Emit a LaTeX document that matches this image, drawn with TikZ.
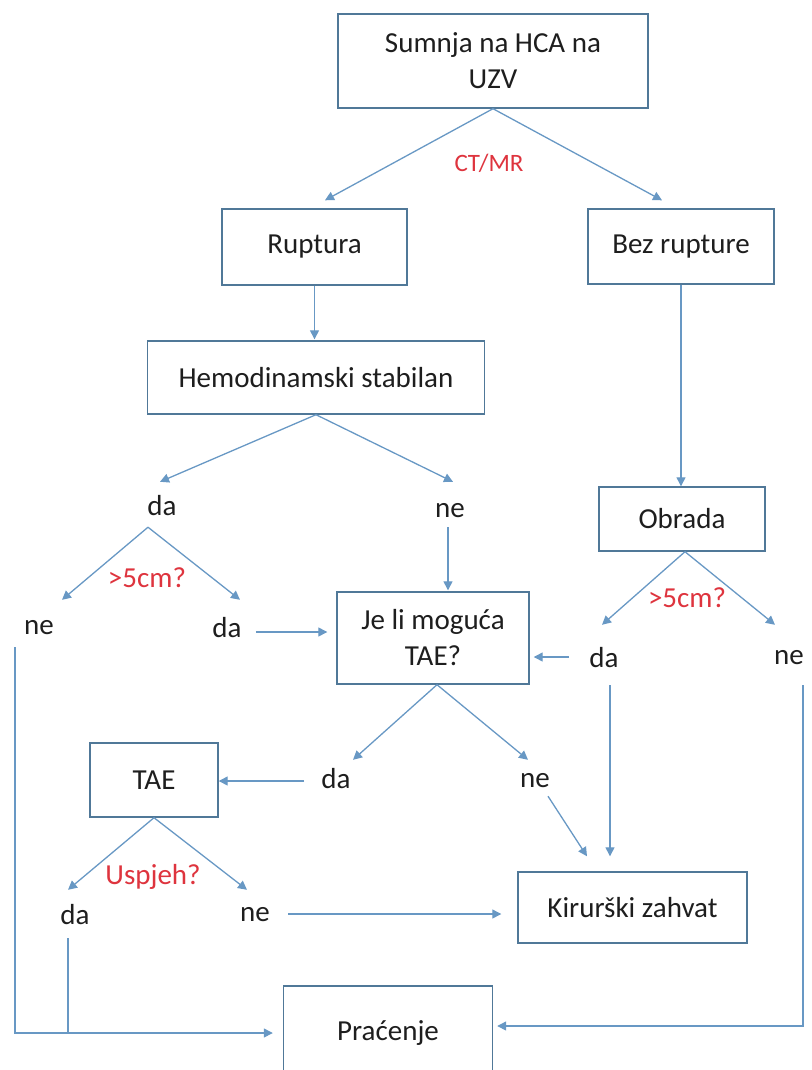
\documentclass[tikz,border=0pt]{standalone}
\usepackage{fontspec}
\setmainfont{Carlito}
\usetikzlibrary{arrows.meta, positioning}

\definecolor{boxline}{RGB}{80,120,152}
\definecolor{arrowline}{RGB}{104,152,196}
\definecolor{qred}{RGB}{222,52,62}
\definecolor{txt}{RGB}{30,30,30}

\tikzset{
  box/.style={draw=boxline, line width=1.4pt, fill=white, text=txt, align=center,
    inner sep=0pt, font=\fontsize{29}{36}\selectfont},
  lbl/.style={text=txt, inner sep=0pt, text height=20pt, text depth=0pt,
    font=\fontsize{29}{36}\selectfont},
  qlbl/.style={text=qred, inner sep=0pt, font=\fontsize{29}{36}\selectfont},
  arr/.style={draw=arrowline, line width=1.3pt, -{Triangle[length=9pt,width=9pt]}},
  ln/.style={draw=arrowline, line width=1.3pt}
}

\begin{document}
\begin{tikzpicture}[x=1pt, y=-1pt]
      \useasboundingbox (0,0) rectangle (811,1070);
      \clip (0,0) rectangle (811,1070);

      % Boxes
      \node[box, minimum width=310, minimum height=94] (top) at (493,61) {Sumnja na HCA na\\UZV};
      \node[box, minimum width=185, minimum height=76] (rupt) at (314.5,247) {Ruptura};
      \node[box, minimum width=186, minimum height=75] (bez) at (681,246.5) {Bez rupture};
      \node[box, minimum width=337, minimum height=73] (hemo) at (316,377.5) {Hemodinamski stabilan};
      \node[box, minimum width=166, minimum height=64] (obrada) at (682,519) {Obrada};
      \node[box, minimum width=192, minimum height=92] (jeli) at (433,638) {Je li moguća\\TAE?};
      \node[box, minimum width=128, minimum height=74] (tae) at (154,780) {TAE};
      \node[box, minimum width=229, minimum height=71] (kir) at (632.5,907.5) {Kirurški zahvat};
      \node[box, minimum width=209, minimum height=94] (prac) at (388,1033) {Praćenje};

      % Labels
      \node[qlbl, font=\fontsize{25}{30}\selectfont] (ctmr) at (489,163) {CT/MR};
      \node[lbl] (daA) at (162,505) {da};
      \node[lbl] (neA) at (450,507) {ne};
      \node[qlbl] (gtA) at (147,578) {>5cm?};
      \node[lbl] (neB) at (39,624) {ne};
      \node[lbl] (daB) at (227,627) {da};
      \node[qlbl] (gtB) at (687,598) {>5cm?};
      \node[lbl] (daC) at (604,657) {da};
      \node[lbl] (neC) at (789,654) {ne};
      \node[lbl] (daD) at (336,778) {da};
      \node[lbl] (neD) at (535,777) {ne};
      \node[qlbl] (usp) at (153,877) {Uspjeh?};
      \node[lbl] (daE) at (75,914) {da};
      \node[lbl] (neE) at (255,911) {ne};

      % Top split
      \draw[arr] (top.south) -- ([xshift=10.5pt, yshift=8pt]rupt.north);
      \draw[arr] (top.south) -- ([xshift=-19pt, yshift=8pt]bez.north);

      % Ruptura branch
      \draw[arr, shorten >=1pt] (rupt.south) -- (rupt.south |- hemo.north);
      \draw[arr] (hemo.south) -- ([xshift=-2pt, yshift=13pt]daA.north);
      \draw[arr] (hemo.south) -- ([xshift=3pt, yshift=15pt]neA.north);
      \draw[arr, shorten <=10pt, shorten >=1pt] ([xshift=-2pt]neA.south) -- ([xshift=-2pt]neA.south |- jeli.north);
      \draw[arr] ([xshift=-14pt, yshift=-12pt]daA.south) -- ([xshift=23pt, yshift=14pt]neB.north);
      \draw[arr] ([xshift=-14pt, yshift=-12pt]daA.south) -- ([xshift=13pt, yshift=17pt]daB.north);
      \draw[arr, shorten <=14pt, shorten >=9pt] ([yshift=-5pt]daB.east) -- ([yshift=-5pt]daB.east -| jeli.west);

      % Bez rupture branch
      \draw[arr] (bez.south) -- (bez.south |- obrada.north);
      \draw[arr] ([xshift=3pt]obrada.south) -- ([xshift=-2pt, yshift=22pt]daC.north);
      \draw[arr] ([xshift=3pt]obrada.south) -- ([xshift=-14pt, yshift=19pt]neC.north);
      \draw[arr, shorten <=20pt, shorten >=4pt] (daC.west) -- (daC.west -| jeli.east);
      \draw[arr, shorten <=18pt, shorten >=15pt] ([xshift=6pt]daC.south) -- ([xshift=6pt]daC.south |- kir.north);
      \draw[arr, shorten <=21pt, shorten >=4pt] ([xshift=14pt]neC.south) |- ([yshift=7pt]prac.east);
      \draw[arr, shorten <=13pt, shorten >=10pt] ([xshift=-24pt]neB.south) |- (prac.west);

      % TAE decision
      \draw[arr] ([xshift=4pt]jeli.south) -- ([xshift=17pt, yshift=8pt]daD.north);
      \draw[arr] ([xshift=4pt]jeli.south) -- ([xshift=-7pt, yshift=7pt]neD.north);
      \draw[arr, shorten <=17pt] ([yshift=-3pt]daD.west) -- ([yshift=-3pt]daD.west -| tae.east);
      \draw[arr] ([xshift=13pt, yshift=-9pt]neD.south) -- ([xshift=-45.5pt, yshift=15pt]kir.north);
      \draw[arr] (tae.south) -- ([xshift=-7pt, yshift=14pt]daE.north);
      \draw[arr] (tae.south) -- ([xshift=-8pt, yshift=11pt]neE.north);
      \draw[arr, shorten <=18pt, shorten >=16pt] ([yshift=-3pt]neE.east) -- ([yshift=-3pt]neE.east -| kir.west);
      \draw[ln, shorten <=14pt] ([xshift=-7pt]daE.south) -- ([xshift=-7pt]daE.south |- prac.west);
\end{tikzpicture}
\end{document}
